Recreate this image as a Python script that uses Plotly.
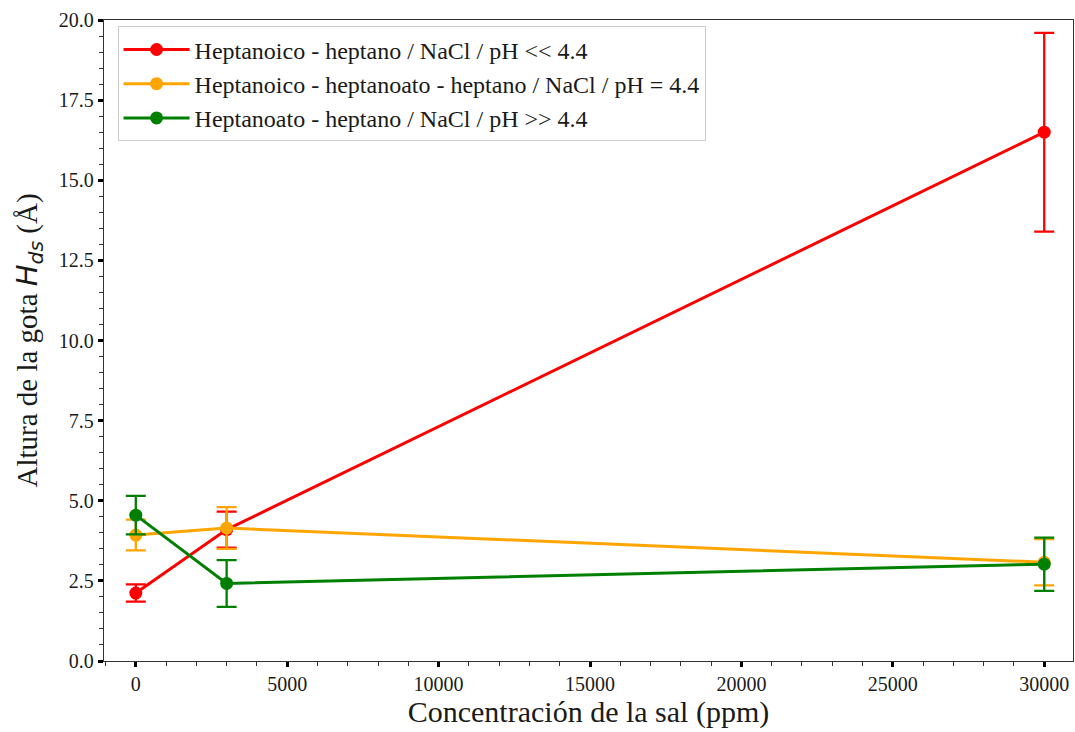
import plotly.graph_objects as go

# Salt concentration (ppm)
concentracion = [0, 3000, 30000]

# Droplet height H_ds (Å) and its standard deviation for each system
nombres = [
    "Heptanoico - heptano / NaCl / pH << 4.4",
    "Heptanoico - heptanoato - heptano / NaCl / pH = 4.4",
    "Heptanoato - heptano / NaCl / pH >> 4.4",
]
altura_acido = [2.12, 4.10, 16.5]
error_acido = [0.27, 0.56, 3.1]
altura_mezcla = [3.93, 4.15, 3.08]
error_mezcla = [0.48, 0.65, 0.72]
altura_sal = [4.55, 2.42, 3.02]
error_sal = [0.60, 0.73, 0.83]

# Axis ticks
x_ticks = [0, 5000, 10000, 15000, 20000, 25000, 30000]
x_tick_labels = ["0", "5000", "10000", "15000", "20000", "25000", "30000"]
y_ticks = [0, 2.5, 5, 7.5, 10, 12.5, 15, 17.5, 20]
y_tick_labels = ["0.0", "2.5", "5.0", "7.5", "10.0", "12.5", "15.0", "17.5", "20.0"]

colores = ["red", "orange", "green"]
alturas = [altura_acido, altura_mezcla, altura_sal]
errores = [error_acido, error_mezcla, error_sal]

fig = go.Figure()
for nombre, y, e, c in zip(nombres, alturas, errores, colores):
    fig.add_trace(go.Scatter(
        x=concentracion, y=y, name=nombre, mode="lines+markers",
        line=dict(color=c, width=3),
        marker=dict(color=c, size=13),
        error_y=dict(type="data", array=e, visible=True, color=c,
                     thickness=2.3, width=10),
    ))

serif = "Liberation Serif, Times New Roman, serif"
titulo_y = ("Altura de la gota <span style=\"font-family:'DejaVu Sans'\">"
            "<i>H<sub>ds</sub></i></span> (Å)")
fig.update_layout(
    width=1075, height=732,
    margin=dict(l=104, r=2, t=20, b=71),
    paper_bgcolor="white", plot_bgcolor="white",
    font=dict(family=serif, color="#1a1a1a", size=20),
    showlegend=True,
    legend=dict(
        x=0.014, y=0.99, xanchor="left", yanchor="top",
        bgcolor="rgba(255,255,255,0.9)", bordercolor="#cccccc", borderwidth=1,
        font=dict(family=serif, size=24, color="#1a1a1a"),
        itemwidth=66, tracegroupgap=0,
    ),
    xaxis=dict(
        range=[-1050, 30950], tickvals=x_ticks, ticktext=x_tick_labels,
        ticks="outside", ticklen=5, tickwidth=3, tickcolor="black",
        minor=dict(dtick=1000, ticks="outside", ticklen=4, tickwidth=1.2, tickcolor="#333333"),
        showline=True, linecolor="#333333", linewidth=1.3, mirror=True,
        showgrid=False, zeroline=False,
        tickfont=dict(size=20),
        title=dict(text="Concentración de la sal (ppm)", font=dict(size=30), standoff=6),
    ),
    yaxis=dict(
        range=[0, 20], tickvals=y_ticks, ticktext=y_tick_labels,
        ticks="outside", ticklen=5, tickwidth=3, tickcolor="black",
        minor=dict(dtick=0.5, ticks="outside", ticklen=4, tickwidth=1.2, tickcolor="#333333"),
        showline=True, linecolor="#333333", linewidth=1.3, mirror=True,
        showgrid=False, zeroline=False,
        tickfont=dict(size=20),
        title=dict(text=titulo_y, font=dict(size=29), standoff=12),
    ),
)

fig.write_html("out.html")
